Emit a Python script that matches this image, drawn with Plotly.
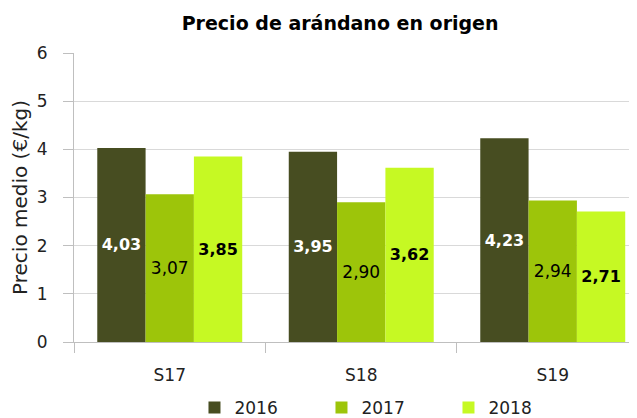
import plotly.graph_objects as go

categories = ["S17", "S18", "S19"]
years = ["2016", "2017", "2018"]
v2016 = [4.03, 3.95, 4.23]
v2017 = [3.07, 2.90, 2.94]
v2018 = [3.85, 3.62, 2.71]
y_ticks = [0, 1, 2, 3, 4, 5, 6]

FONT = "DejaVu Sans"
colors = ["#474D21", "#9DC50A", "#C6F923"]
label_fonts = [
    dict(color="white", size=16, family=FONT, weight="bold"),
    dict(color="black", size=17, family=FONT),
    dict(color="black", size=16, family=FONT, weight="bold"),
]

fig = go.Figure()
for name, vals, col, lf in zip(years, [v2016, v2017, v2018], colors, label_fonts):
    fig.add_trace(go.Bar(
        name=name, x=categories, y=vals,
        marker=dict(color=col, line=dict(width=0)),
        text=[f"{v:.2f}".replace(".", ",") for v in vals],
        textposition="inside", insidetextanchor="middle",
        textfont=lf, textangle=0, cliponaxis=False,
    ))

# page body has an 8px margin, so the figure is sized/offset to compensate
fig.update_layout(
    width=629, height=410,
    margin=dict(l=66, r=0, t=45, b=76, autoexpand=False),
    paper_bgcolor="white", plot_bgcolor="white",
    barmode="group", bargap=0.243, bargroupgap=0,
    font=dict(family=FONT, color="#222222"),
    title=dict(text="<b>Precio de arándano en origen</b>", x=0.528, xanchor="center",
               y=0.962, yanchor="middle", font=dict(size=19, color="black")),
    legend=dict(orientation="h", x=0.214, xanchor="left", y=-0.228, yanchor="middle",
                font=dict(size=17, color="#222222"), entrywidth=82, entrywidthmode="pixels",
                traceorder="normal"),
    xaxis=dict(range=[-0.5, 2.44], tickson="boundaries", ticks="outside", ticklen=10,
               tickcolor="#BFBFBF", showline=True, linecolor="#BFBFBF", linewidth=1,
               tickfont=dict(size=17, color="#222222"), ticklabelstandoff=18,
               showgrid=False, automargin=False),
    yaxis=dict(range=[0, 6], tickvals=y_ticks, ticks="outside", ticklen=10, tickcolor="#BFBFBF",
               showline=True, linecolor="#BFBFBF", gridcolor="#D9D9D9", gridwidth=1,
               tickfont=dict(size=17, color="#222222"), ticklabelstandoff=12, automargin=False,
               title=dict(text="Precio medio (€/kg)", font=dict(size=20, color="#222222"), standoff=4),
               zeroline=False),
)

fig.write_html("out.html")
